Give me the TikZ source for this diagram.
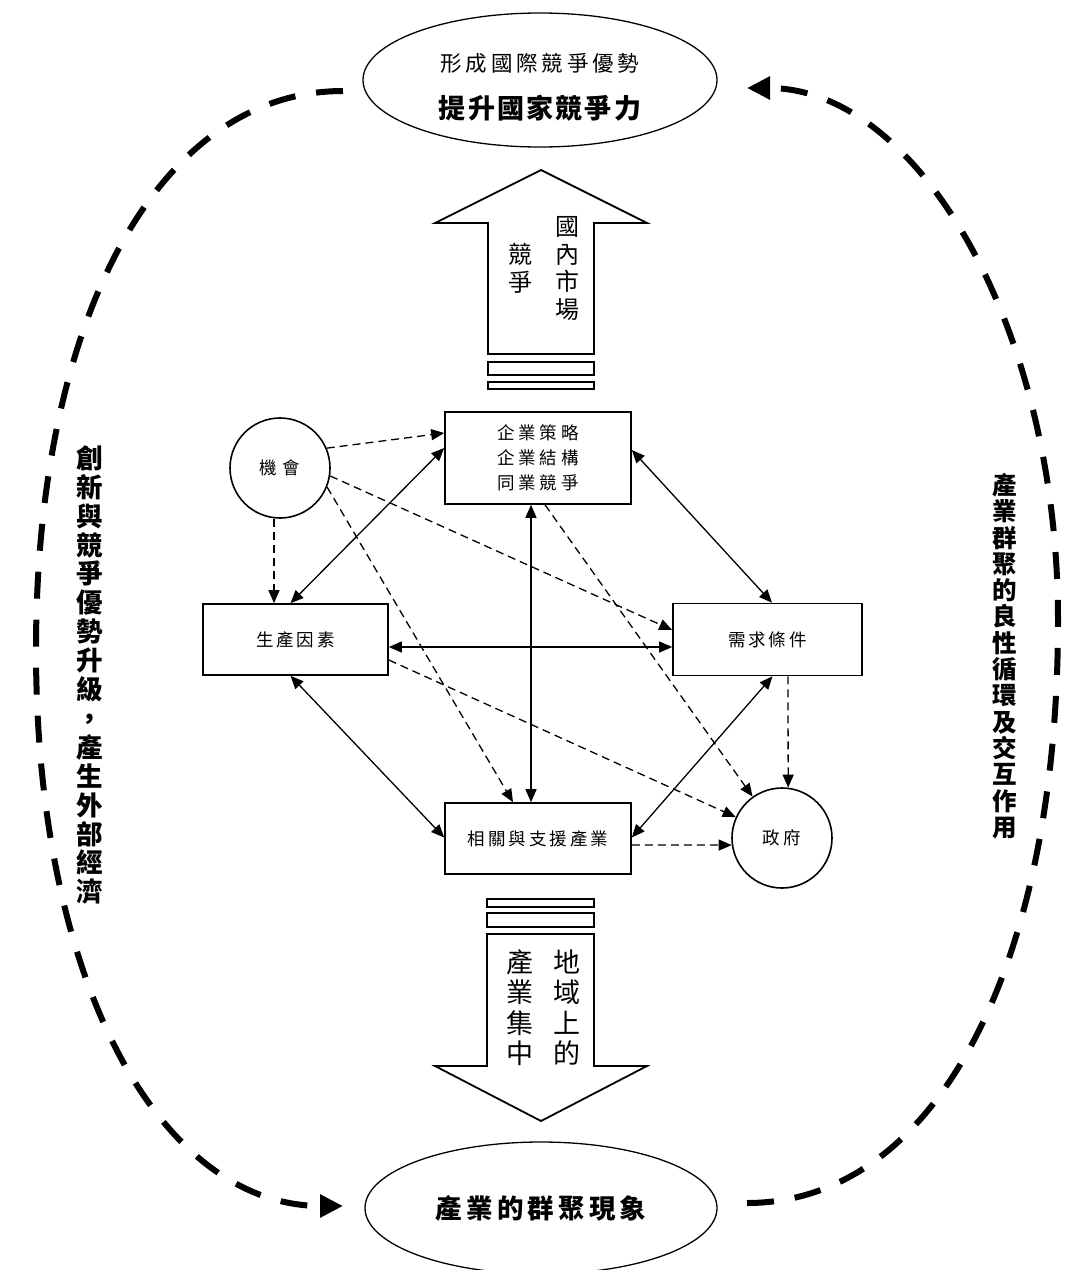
\documentclass[tikz,border=0pt]{standalone}
\usepackage{fontspec}
\newfontfamily\cjk{Noto Sans CJK TC}
\usetikzlibrary{shapes.geometric,arrows.meta}

% letter-spaced text: #1 = half of the extra gap put on each side of every character
\newcommand\spreadchars[2]{\def\spreadhalf{#1}\spreadnext#2\relax}
\def\spreadnext#1{\ifx#1\relax\else\kern\spreadhalf\relax#1\kern\spreadhalf\relax\expandafter\spreadnext\fi}

\tikzset{
  factorbox/.style={draw, line width=1.6pt, inner sep=0pt, align=center,
    font=\cjk\fontsize{17.5}{25}\selectfont},
  ring/.style={circle, draw, line width=1.6pt, minimum size=100pt, inner sep=0pt,
    font=\cjk\fontsize{17.5}{20}\selectfont},
  link/.style={line width=1.3pt,
    {Triangle[length=13pt,width=11pt]}-{Triangle[length=13pt,width=11pt]}},
  hint/.style={line width=1.3pt, dash pattern=on 8pt off 5pt,
    -{Triangle[length=13pt,width=11pt]}},
  cyclepath/.style={line width=6pt, dash pattern=on 27pt off 21pt},
  blockarrow/.style={draw, line width=1.8pt, fill=white, line join=miter},
  stripe/.style={draw, line width=1.6pt},
  vcol/.style={align=center, inner sep=0pt},
  oval/.style={ellipse, draw, line width=1.3pt, inner sep=0pt}
}

\begin{document}
\begin{tikzpicture}[x=1pt,y=-1pt]
\useasboundingbox (0,0) rectangle (1068,1270);

% ---- goal and result ovals ----
\node[oval, minimum width=354pt, minimum height=134pt] (goal) at (540,80) {};
\node[inner sep=0pt, font=\cjk\fontsize{21.5}{24}\selectfont] (goalA) at (540,63)
  {\spreadchars{1.9pt}{形成國際競爭優勢}};
\node[inner sep=0pt, font=\cjk\bfseries\fontsize{27}{30}\selectfont] (goalB) at (540,108)
  {\spreadchars{1.1pt}{提升國家競爭力}};

\node[oval, minimum width=352pt, minimum height=132pt,
  font=\cjk\bfseries\fontsize{26.5}{30}\selectfont] (cluster) at (541,1208)
  {\spreadchars{2.1pt}{產業的群聚現象}};

% ---- upward block arrow ----
\draw[blockarrow] (541,170) -- (647,223) -- (594,223) -- (594,354) -- (488,354)
  -- (488,223) -- (435,223) -- cycle;
\draw[stripe] (488,362) rectangle (594,375);
\draw[stripe] (488,382) rectangle (594,389);
\node[vcol, font=\cjk\fontsize{24}{27.7}\selectfont] (upA) at (567,268.5) {國\\內\\市\\場};
\node[vcol, font=\cjk\fontsize{24}{27.7}\selectfont] (upB) at (520,268.5) {競\\爭};

% ---- downward block arrow ----
\draw[stripe] (487,899) rectangle (594,907);
\draw[stripe] (487,913) rectangle (594,927);
\draw[blockarrow] (487,934) -- (594,934) -- (594,1066) -- (647,1066) -- (541,1121)
  -- (435,1066) -- (487,1066) -- cycle;
\node[vcol, font=\cjk\fontsize{27}{30.4}\selectfont] (dnA) at (567,1007.5) {地\\域\\上\\的};
\node[vcol, font=\cjk\fontsize{27}{30.4}\selectfont] (dnB) at (520,1007.5) {產\\業\\集\\中};

% ---- diamond of factors ----
\node[factorbox, minimum width=186pt, minimum height=92pt] (qy) at (538,458)
  {\spreadchars{1.9pt}{企業策略}\\\spreadchars{1.9pt}{企業結構}\\\spreadchars{1.9pt}{同業競爭}};
\node[factorbox, minimum width=185pt, minimum height=71pt] (sc) at (295.5,639.5)
  {\spreadchars{1.5pt}{生產因素}};
\node[factorbox, minimum width=189pt, minimum height=72pt] (xq) at (767.5,639.5)
  {\spreadchars{1.5pt}{需求條件}};
\node[factorbox, minimum width=186pt, minimum height=71pt] (xg) at (538,838.5)
  {\spreadchars{1.5pt}{相關與支援產業}};
\node[ring] (jh) at (280,468) {\spreadchars{3pt}{機會}};
\node[ring] (zf) at (782,838) {\spreadchars{1.9pt}{政府}};

% mutual influences
\draw[link] ([xshift=-5pt]sc.north) -- ([yshift=10pt]qy.west);
\draw[link] ([yshift=8pt]qy.east) -- ([xshift=4.5pt]xq.north);
\draw[link] ([yshift=-7.5pt]sc.east) -- ([yshift=-7.5pt]xq.west);
\draw[link] ([xshift=-7pt]qy.south) -- ([xshift=-7pt]xg.north);
\draw[link] ([xshift=-5pt]sc.south) -- ([yshift=1pt]xg.west);
\draw[link] ([xshift=5pt]xq.south) -- ([yshift=1pt]xg.east);

% influences of chance and government
\draw[hint] (jh.23) -- ([yshift=25pt]qy.west);
\draw[hint] ([xshift=-6pt]jh.south) -- ([xshift=-21.5pt]sc.north);
\draw[hint] (jh.-9) -- ([yshift=9.5pt]xq.west);
\draw[hint] (jh.-22) -- ([xshift=-25pt]xg.north);
\draw[hint] ([xshift=7pt]qy.south) -- (zf);
\draw[hint] ([yshift=-20.5pt]sc.east) -- (zf);
\draw[hint] ([yshift=-6.5pt]xg.east) -- (zf.188);
\draw[hint] ([xshift=20.5pt]xq.south) -- (zf.83);

% ---- outer feedback loops ----
\coordinate (lA) at (343,91);
\coordinate (lB) at (343,1206);
\coordinate (rA) at (747,1203);
\coordinate (rB) at (747,88);
\draw[cyclepath, -{Triangle[length=23pt,width=22pt]}]
  (lA) .. controls (160,91) and (36,315) .. (36,650)
       .. controls (36,983) and (160,1206) .. (lB);
\draw[cyclepath, -{Triangle[length=23pt,width=22pt]}]
  (rA) .. controls (934,1203) and (1058,970) .. (1058,620)
       .. controls (1058,327) and (918,88) .. (rB);

% ---- side captions ----
\node[vcol, font=\cjk\bfseries\fontsize{26.5}{28.9}\selectfont] (leftcap) at (90,675)
  {創\\新\\與\\競\\爭\\優\\勢\\升\\級\\，\\產\\生\\外\\部\\經\\濟};
\node[vcol, font=\cjk\bfseries\fontsize{24.5}{26.3}\selectfont] (rightcap) at (1005,656)
  {產\\業\\群\\聚\\的\\良\\性\\循\\環\\及\\交\\互\\作\\用};
\end{tikzpicture}
\end{document}
